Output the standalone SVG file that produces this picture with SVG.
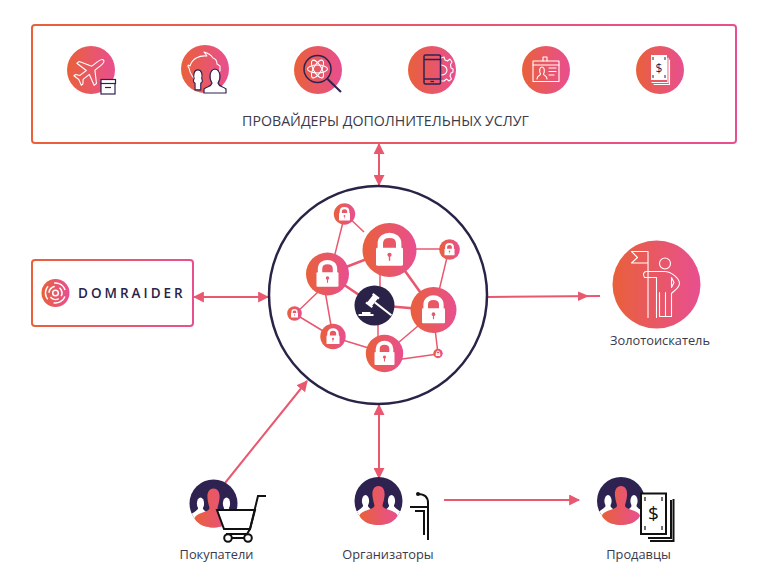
<svg xmlns="http://www.w3.org/2000/svg" width="768" height="586" viewBox="0 0 768 586">
<style>
text{font-family:"Open Sans","Noto Sans","Liberation Sans",sans-serif;fill:#3a3a4a}
.lbl{font-size:12.800px;text-anchor:middle}
.wl{fill:none;stroke:#fff;stroke-width:1.1;stroke-linejoin:round;stroke-linecap:round}
.bk{fill:none;stroke:#111;stroke-width:2}
.cn{stroke:#e9586f;stroke-width:2;fill:none}
.ed{stroke:#e9586f;stroke-width:1.5;fill:none}
.ed2{stroke:#e9586f;stroke-width:2.6;fill:none}
</style>
<defs>
<linearGradient id="g"><stop offset="0" stop-color="#e9603a"/><stop offset="1" stop-color="#e84f90"/></linearGradient>
<linearGradient id="gBoxT" gradientUnits="userSpaceOnUse" x1="32" y1="0" x2="736" y2="0"><stop offset="0" stop-color="#e9603a"/><stop offset="1" stop-color="#e84f90"/></linearGradient>
<linearGradient id="gBoxL" gradientUnits="userSpaceOnUse" x1="32" y1="0" x2="193" y2="0"><stop offset="0" stop-color="#e9603a"/><stop offset="1" stop-color="#e84f90"/></linearGradient>
<marker id="ah" viewBox="0 0 10 10" refX="9" refY="5" markerWidth="11" markerHeight="11" markerUnits="userSpaceOnUse" orient="auto-start-reverse"><path d="M0 0L10 5L0 10Z" fill="#e9586f"/></marker>
<g id="lock">
<path d="M-34 2V-24C-34 -64 34 -64 34 -24V2" fill="none" stroke="#fff" stroke-width="20"/>
<rect x="-50" y="-8" width="100" height="66" rx="5" fill="#fff"/>
<circle cx="0" cy="18" r="8" fill="#e9586f"/><rect x="-2.500" y="20" width="5" height="20" fill="#e9586f"/>
</g>
<clipPath id="cc"><circle r="24"/></clipPath>
<g id="users">
<circle r="24" fill="#2e2350"/>
<g clip-path="url(#cc)" fill="#fff">
<ellipse cx="-13" cy="0" rx="3.600" ry="6"/><path d="M-24 22V13C-22 9 -16 8 -15 4H-11C-10 8 -5 9 -2 12V24Z"/>
<ellipse cx="13" cy="0" rx="3.600" ry="6"/><path d="M24 22V13C22 9 16 8 15 4H11C10 8 5 9 2 12V24Z"/>
<path d="M-24 16H24V26H-24Z"/>
</g>
<path d="M0 -15C5 -15 6.500 -10 6 -5C5.500 0 4 3 4 5C5 9 18 9 19 15C15 22 7 24 0 24C-7 24 -15 22 -19 15C-18 9 -5 9 -4 5C-4 3 -5.500 0 -6 -5C-6.500 -10 -5 -15 0 -15Z" fill="url(#g)"/>
</g>
</defs>

<g id="connectors">
<path class="cn" d="M379 144V185" marker-start="url(#ah)" marker-end="url(#ah)"/>
<path class="cn" d="M194 297H268" marker-start="url(#ah)" marker-end="url(#ah)"/>
<path class="cn" d="M488 297L600 296"/>
<path d="M578 291.500L589 296L578 301Z" fill="#e9586f"/>
<path class="cn" d="M225 483L307 381" marker-end="url(#ah)"/>
<path class="cn" d="M379 405V478" marker-start="url(#ah)" marker-end="url(#ah)"/>
<path class="cn" d="M444 500H579" marker-end="url(#ah)"/>
</g>

<g id="providers">
<rect x="32" y="25" width="704" height="118" rx="3" fill="#fff" stroke="url(#gBoxT)" stroke-width="2"/>
<text x="385.500" y="126" font-size="14.200" text-anchor="middle">ПРОВАЙДЕРЫ ДОПОЛНИТЕЛЬНЫХ УСЛУГ</text>
</g>

<g id="icon-travel" transform="translate(91 70)">
<circle r="24" fill="url(#g)"/>
<path class="wl" transform="rotate(52) translate(0 1)" d="M0 -17C2 -17 2.500 -14 2.500 -11V-4L14 3V6L2.500 3V11L6 14V16L0 14.500L-6 16V14L-2.500 11V3L-14 6V3L-2.500 -4V-11C-2.500 -14 -2 -17 0 -17Z"/>
<rect x="10" y="13" width="14" height="11" fill="#fff" stroke="#2c2350" stroke-width="1.200"/>
<rect x="10" y="9.500" width="14.500" height="4" fill="#fff" stroke="#2c2350" stroke-width="1.200"/>
<path d="M14 17.500H20" stroke="#2c2350" stroke-width="1.200"/>
</g>
<g id="icon-savings" transform="translate(205 69)">
<circle r="24" fill="url(#g)"/>
<path class="wl" d="M-15 -3C-13 -10 -6 -14 2 -13L-1 -17C3 -16 6 -14 8 -11C11 -10 12 -7 12 -5L15 -3V2L12 3M-15 -3C-17 -5 -18 -3 -16 -1C-15 5 -11 10 -7 13"/>
<path d="M-1 23V16C-3 15 -3 13 -2 11C-3 7 -2 2 2 2C6 2 7 7 6 11C7 13 7 15 5 16V23Z" transform="translate(-9 -1) scale(.95)" fill="#fff" stroke="#2c2350" stroke-width="1.200"/>
<path d="M-9 24V20C-5 17 -2 18 -1 14C-4 10 -4 1 2 0C8 1 8 10 5 14C6 18 10 17 13 20V24Z" transform="translate(8 0)" fill="#fff" stroke="#2c2350" stroke-width="1.200"/>
</g>
<g id="icon-research" transform="translate(318 70)">
<circle r="24" fill="url(#g)"/>
<circle r="13.500" cx="-.5" cy="-1" fill="none" stroke="#2c2350" stroke-width="1.500"/>
<path d="M9.500 9L23 22" stroke="#2c2350" stroke-width="2"/>
<g class="wl" transform="translate(-.5 -1)"><ellipse rx="10" ry="4"/><ellipse rx="10" ry="4" transform="rotate(60)"/><ellipse rx="10" ry="4" transform="rotate(120)"/></g>
</g>
<g id="icon-mobile" transform="translate(432 70)">
<circle r="24" fill="url(#g)"/>
<path class="wl" d="M9 -12L12 -13L13 -10L15.500 -9L18 -11L20 -8L18.500 -5.500L19 -2L21 -1V2L19 3L18 6L19.500 9L17 11L14.500 9L12 11L9 11"/>
<path class="wl" d="M9 -5C13 -5 15 -2 15 0C15 3 13 5 9 5"/>
<rect x="-8" y="-15" width="16.500" height="29" rx="1.500" fill="none" stroke="#2c2350" stroke-width="1.500"/>
<path d="M-8 -10.500H8.500M-8 9H8.500" stroke="#2c2350" stroke-width="1.300"/>
<path d="M-1.500 11.500H2" stroke="#2c2350" stroke-width="1.300"/>
</g>
<g id="icon-id" transform="translate(546 70)">
<circle r="24" fill="url(#g)"/>
<path class="wl" d="M-3 -9V-13H1V-9"/>
<rect class="wl" x="-13" y="-9" width="26" height="20.500"/>
<path class="wl" d="M-13 -5H13"/>
<path class="wl" d="M-9 9C-9 5 -5.500 6 -5.500 4C-7 1 -6.500 -3 -4 -3C-1.500 -3 -1 1 -2.500 4C-2.500 6 1 5 1 9M3 -2H10M3 1.500H10M3 5H8"/>
</g>
<g id="icon-cash" transform="translate(660 70)">
<circle r="24" fill="url(#g)"/>
<path class="wl" d="M8 -12V12.500H-8M9.500 -10V14.500H-6"/>
<rect x="-9" y="-15" width="16" height="25" fill="#fff"/>
<text x="-1" y="3" font-size="12" text-anchor="middle" style="fill:#2c2350">$</text>
<path d="M-7 -13V-10M-7 5V8M5 -13V-10M5 5V8" stroke="#2c2350" stroke-width="1"/>
</g>

<g id="domraider">
<rect x="32" y="260" width="161" height="66" rx="3" fill="#fff" stroke="url(#gBoxL)" stroke-width="2"/>
<circle cx="55.500" cy="293" r="14" fill="url(#g)"/>
<g class="wl" transform="translate(55.500 293)" style="stroke-width:1.500;stroke-linecap:butt"><circle r="10" stroke-dasharray="14 7" transform="rotate(20)"/><circle r="6.500" stroke-dasharray="9 4.600" transform="rotate(60)"/><circle r="2.800"/></g>
<text x="78" y="298" font-size="13.500" font-weight="600" letter-spacing="3" style="fill:#2a2347">DOMRAIDER</text>
</g>

<g id="platform">
<circle cx="378" cy="295" r="109" fill="#fff" stroke="#2a2347" stroke-width="2.500"/>
<g id="platform-edges">
<path class="ed" d="M345 214L364 232M345 214L334 258M449 249H410M449 249L438 295M333 337L295 314L320 290M333 337L324 285M333 337L375 350M438 354L388 361M438 354L434 320M385 354L425 320M380 240V290M378 305V345"/>
<path class="ed2" d="M390 250L328 274M390 250L433 310M328 274L374 305L433 310"/>
</g>
<g id="lock-big"><circle cx="389.500" cy="250" r="27" fill="url(#g)"/><use href="#lock" transform="translate(389.500 250) scale(.27)"/></g>
<g id="lock-left"><circle cx="327.500" cy="274" r="21.500" fill="url(#g)"/><use href="#lock" transform="translate(327.500 274) scale(.22)"/></g>
<g id="lock-right"><circle cx="433.500" cy="310" r="23" fill="url(#g)"/><use href="#lock" transform="translate(433.500 310) scale(.23)"/></g>
<g id="lock-bottom"><circle cx="384.500" cy="353.500" r="18.700" fill="url(#g)"/><use href="#lock" transform="translate(384.500 353.500) scale(.2)"/></g>
<g id="lock-top-small"><circle cx="344.500" cy="214" r="10.700" fill="url(#g)"/><use href="#lock" transform="translate(344.500 214) scale(.11)"/></g>
<g id="lock-right-small"><circle cx="449.500" cy="249.500" r="10.300" fill="url(#g)"/><use href="#lock" transform="translate(449.500 249.500) scale(.1)"/></g>
<g id="lock-left-small"><circle cx="294.500" cy="313.500" r="7.300" fill="url(#g)"/><use href="#lock" transform="translate(294.500 313.500) scale(.07)"/></g>
<g id="lock-lowerleft"><circle cx="333" cy="336.500" r="12.700" fill="url(#g)"/><use href="#lock" transform="translate(333 336.500) scale(.13)"/></g>
<g id="lock-tiny"><circle cx="438" cy="353.500" r="4.700" fill="url(#g)"/><use href="#lock" transform="translate(438 353.500) scale(.045)"/></g>
<g id="gavel" transform="translate(374.500 305.500)">
<circle r="20" fill="#2a2347"/>
<g transform="rotate(-52 -2 -5)" fill="#fff"><rect x="-7" y="-8" width="10" height="6"/><rect x="-8.500" y="-9" width="2.200" height="8"/><rect x="2.300" y="-9" width="2.200" height="8"/><rect x="-3" y="-2" width="2" height="21"/></g>
<path d="M-16 8.500H-1V10.500H-16ZM-12.500 6.500H-4V8.500H-12.500Z" fill="#fff"/>
</g>
</g>

<g id="gold-digger" transform="translate(656.500 284.500)">
<circle r="44" fill="url(#g)"/>
<path class="wl" d="M-8.500 33V-33H-25L-19 -27L-25 -21.500H-8.500"/>
<circle class="wl" cx="8.500" cy="-21" r="5.500"/>
<path class="wl" d="M-8.500 -7H-12C-14 -10 -13 -13 -10 -13H8C15 -13 23 -6 23 -1C23 3 18 6 15 9V32H9V8M9 32H3V8M0 33V-7H-8.500M15 -7L17.500 -2L15 3Z"/>
</g>
<text class="lbl" x="660" y="345">Золотоискатель</text>

<g id="buyers">
<use href="#users" transform="translate(213.500 503.500)"/>
<path d="M217 510H255L250 529H224Z" fill="#fff" stroke="#111" stroke-width="2"/>
<path class="bk" d="M266 496H258L250 529L247 534H226"/>
<circle class="bk" cx="228" cy="538" r="3.800"/><circle class="bk" cx="248" cy="538" r="3.800"/>
<path class="bk" d="M232 538H244"/>
<text class="lbl" x="216.500" y="559">Покупатели</text>
</g>

<g id="organizers">
<use href="#users" transform="translate(378.500 501)"/>
<circle cx="418" cy="494" r="2" fill="#111"/>
<path class="bk" d="M418 494C424 494 428 497 428 503V540M410 507H427M415 511H424V535"/>
<text class="lbl" x="388" y="559">Организаторы</text>
</g>

<g id="sellers">
<use href="#users" transform="translate(621 501)"/>
<path d="M671 500V538H648" fill="none" stroke="#111" stroke-width="2"/>
<path d="M673.500 499V541H650" fill="none" stroke="#111" stroke-width="2"/>
<rect x="641" y="493.500" width="25" height="40.500" fill="#fff" stroke="#111" stroke-width="2"/>
<text x="653.500" y="520" font-size="19" text-anchor="middle" style="fill:#111">$</text>
<path d="M645 497V501M645 526V530M662 497V501M662 526V530" stroke="#111" stroke-width="1.200"/>
<text class="lbl" x="638.500" y="559">Продавцы</text>
</g>
</svg>
